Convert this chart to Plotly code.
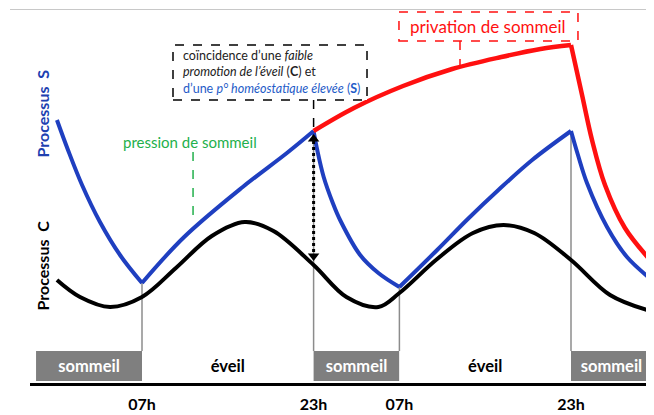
import plotly.graph_objects as go

# ---------------- data (hours from midnight of day 1 ; levels in arbitrary units) -------------
# Processus S (homeostatic sleep pressure), one array pair per phase
s_sleep1_h = [-0.93, 0.10, 1.41, 3.08, 4.95, 7]
s_sleep1_v = [263, 233, 198, 161, 128, 100]
s_wake1_h = [7, 10.93, 16.39, 20.51, 23]
s_wake1_v = [100, 146, 196, 230, 252]
s_sleep2_h = [23, 23.34, 23.94, 24.79, 25.47, 27.34, 29.04, 31]
s_sleep2_v = [252, 233, 206, 180, 163, 128, 110, 96]
s_wake2_h = [31, 34.52, 37.38, 40.23, 43.38, 47]
s_wake2_v = [96, 133, 164, 193, 223, 252]
s_sleep3_h = [47, 47.65, 48.49, 50.36, 52.22, 54.55]
s_sleep3_v = [252, 228, 200, 156, 126, 103]

# Sleep deprivation (red): continued wake then recovery
dep_h = [23, 26.76, 31.34, 35.92, 40.50, 44.16, 47]
dep_v = [252, 275, 297, 314, 326, 334, 338]
rec_h = [47, 48.03, 48.96, 50.17, 52.03, 54.55]
rec_v = [338, 288, 243, 198, 155, 121]

# Processus C (circadian)
c_h = [-0.93, 1.22, 4.02, 7, 10.16, 13.51, 16.58, 19.26, 23, 26.06, 29.04, 31,
       34.52, 37.86, 40.71, 43.57, 47, 50.64, 54.09]
c_v = [103, 86, 76, 86, 115, 147, 161, 152, 118, 86, 76, 90,
       124, 150, 158, 150, 123, 88, 73]

# Sleep / wake phases
phase_labels = ["sommeil", "éveil", "sommeil", "éveil", "sommeil"]
phase_start = [-2.88, 7, 23, 31, 47]
phase_end = [7, 23, 31, 47, 54.55]

tick_hours = [7, 23, 31, 47]
tick_labels = ["07h", "23h", "07h", "23h"]
transition_levels = [100, 252, 96, 252]

# ---------------- styling -------------
FONT = "Lato"
BLUE = "#1f3fc0"
RED = "#ff1010"
GREEN = "#22b04b"
GRAY_BAR = "#7f7f7f"

fig = go.Figure()

# phase bar
is_sleep = [p == "sommeil" for p in phase_labels]
fig.add_trace(go.Bar(
    x=[(a + b) / 2 for a, b in zip(phase_start, phase_end)],
    width=[b - a for a, b in zip(phase_start, phase_end)],
    y=[30] * len(phase_labels), base=[2] * len(phase_labels),
    marker=dict(color=[GRAY_BAR if s else "white" for s in is_sleep], line=dict(width=0)),
    text=phase_labels, texttemplate="<b>%{text}</b>",
    textposition="inside", insidetextanchor="middle",
    textfont=dict(family=FONT, size=16.5, color=["white" if s else "black" for s in is_sleep]),
    hoverinfo="skip", showlegend=False,
))

# Processus C
fig.add_trace(go.Scatter(x=c_h, y=c_v, mode="lines", line=dict(color="black", width=4, shape="spline"),
                         hoverinfo="skip", showlegend=False))

# Processus S
for hh, vv in [(s_sleep1_h, s_sleep1_v), (s_wake1_h, s_wake1_v), (s_sleep2_h, s_sleep2_v),
               (s_wake2_h, s_wake2_v), (s_sleep3_h, s_sleep3_v)]:
    fig.add_trace(go.Scatter(x=hh, y=vv, mode="lines", line=dict(color=BLUE, width=4, shape="spline"),
                             hoverinfo="skip", showlegend=False))

# deprivation
for hh, vv in [(dep_h, dep_v), (rec_h, rec_v)]:
    fig.add_trace(go.Scatter(x=hh, y=vv, mode="lines", line=dict(color=RED, width=4.5, shape="spline"),
                             hoverinfo="skip", showlegend=False))

# vertical transition lines
for h, lv in zip(tick_hours, transition_levels):
    fig.add_shape(type="line", xref="x", yref="y", x0=h, x1=h, y0=lv, y1=32,
                  line=dict(color="#8c8c8c", width=1.5), layer="below")

# dotted double arrow at 23h (coincidence)
fig.add_shape(type="line", xref="x", yref="y", x0=23, x1=23, y0=242, y1=128,
              line=dict(color="black", width=3, dash="dot"))
fig.add_trace(go.Scatter(x=[23, 23], y=[244, 127], mode="markers",
                         marker=dict(symbol=["triangle-up", "triangle-down"], size=10, color="black"),
                         hoverinfo="skip", showlegend=False))
fig.add_shape(type="line", xref="x", yref="y", x0=23, x1=23, y0=283, y1=254,
              line=dict(color="black", width=1.5, dash="dash"))

# black dashed box
fig.add_shape(type="rect", xref="x", yref="y", x0=9.89, x1=27.98, y0=283, y1=338,
              line=dict(color="black", width=1.5, dash="dash"), fillcolor="white")
fig.add_annotation(
    x=10.64, y=311, xref="x", yref="y", xanchor="left", yanchor="middle", align="left",
    showarrow=False, font=dict(family=FONT, size=12.5, color="#222222"),
    text=("coïncidence d’une <i>faible</i><br>"
          "<i>promotion de l’éveil</i> (<b>C</b>) et<br>"
          "<span style='color:#1f5cc8'>d’une <i>p° homéostatique élevée</i> (<b>S</b>)</span>"),
)

# red dashed box
fig.add_shape(type="rect", xref="x", yref="y", x0=30.96, x1=47.65, y0=342, y1=371,
              line=dict(color=RED, width=1.5, dash="dash"), fillcolor="white")
fig.add_annotation(x=39.3, y=356.5, xref="x", yref="y", showarrow=False,
                   text="privation de sommeil", font=dict(family=FONT, size=17, color=RED))
fig.add_shape(type="line", xref="x", yref="y", x0=36.65, x1=36.65, y0=342, y1=318,
              line=dict(color=RED, width=1.5, dash="dash"))

# green annotation
fig.add_annotation(x=11.48, y=241, xref="x", yref="y", showarrow=False,
                   text="pression de sommeil", font=dict(family=FONT, size=15, color=GREEN))
fig.add_shape(type="line", xref="x", yref="y", x0=11.76, x1=11.76, y0=231, y1=161,
              line=dict(color=GREEN, width=1.5, dash="dash"))

# axis titles
fig.add_annotation(x=0.0016, y=270, xref="paper", yref="y", showarrow=False, textangle=-90,
                   text="<b>Processus  S</b>", font=dict(family=FONT, size=16, color="#2040b0"))
fig.add_annotation(x=0.0016, y=118, xref="paper", yref="y", showarrow=False, textangle=-90,
                   text="<b>Processus  C</b>", font=dict(family=FONT, size=16, color="black"))

# thin top rule
fig.add_shape(type="line", xref="paper", yref="y", x0=-0.032, x1=1, y0=373.5, y1=373.5,
              line=dict(color="#c8c8c8", width=1))

# The page adds an 8px body margin, so the figure is 8px smaller than the window.
fig.update_layout(
    width=646, height=407,
    margin=dict(l=22, r=0, t=0, b=32),
    paper_bgcolor="white", plot_bgcolor="white",
    showlegend=False,
    xaxis=dict(range=[-3.443, 54.739], showgrid=False, zeroline=False,
               showline=True, linecolor="black", linewidth=3,
               tickvals=tick_hours, ticktext=[f"<b>{t}</b>" for t in tick_labels],
               ticks="outside", ticklen=5, tickcolor="rgba(0,0,0,0)",
               tickfont=dict(family=FONT, size=16, color="black")),
    yaxis=dict(range=[0, 375], showgrid=False, zeroline=False, showline=False,
               showticklabels=False, ticks=""),
)

fig.write_html("out.html")
